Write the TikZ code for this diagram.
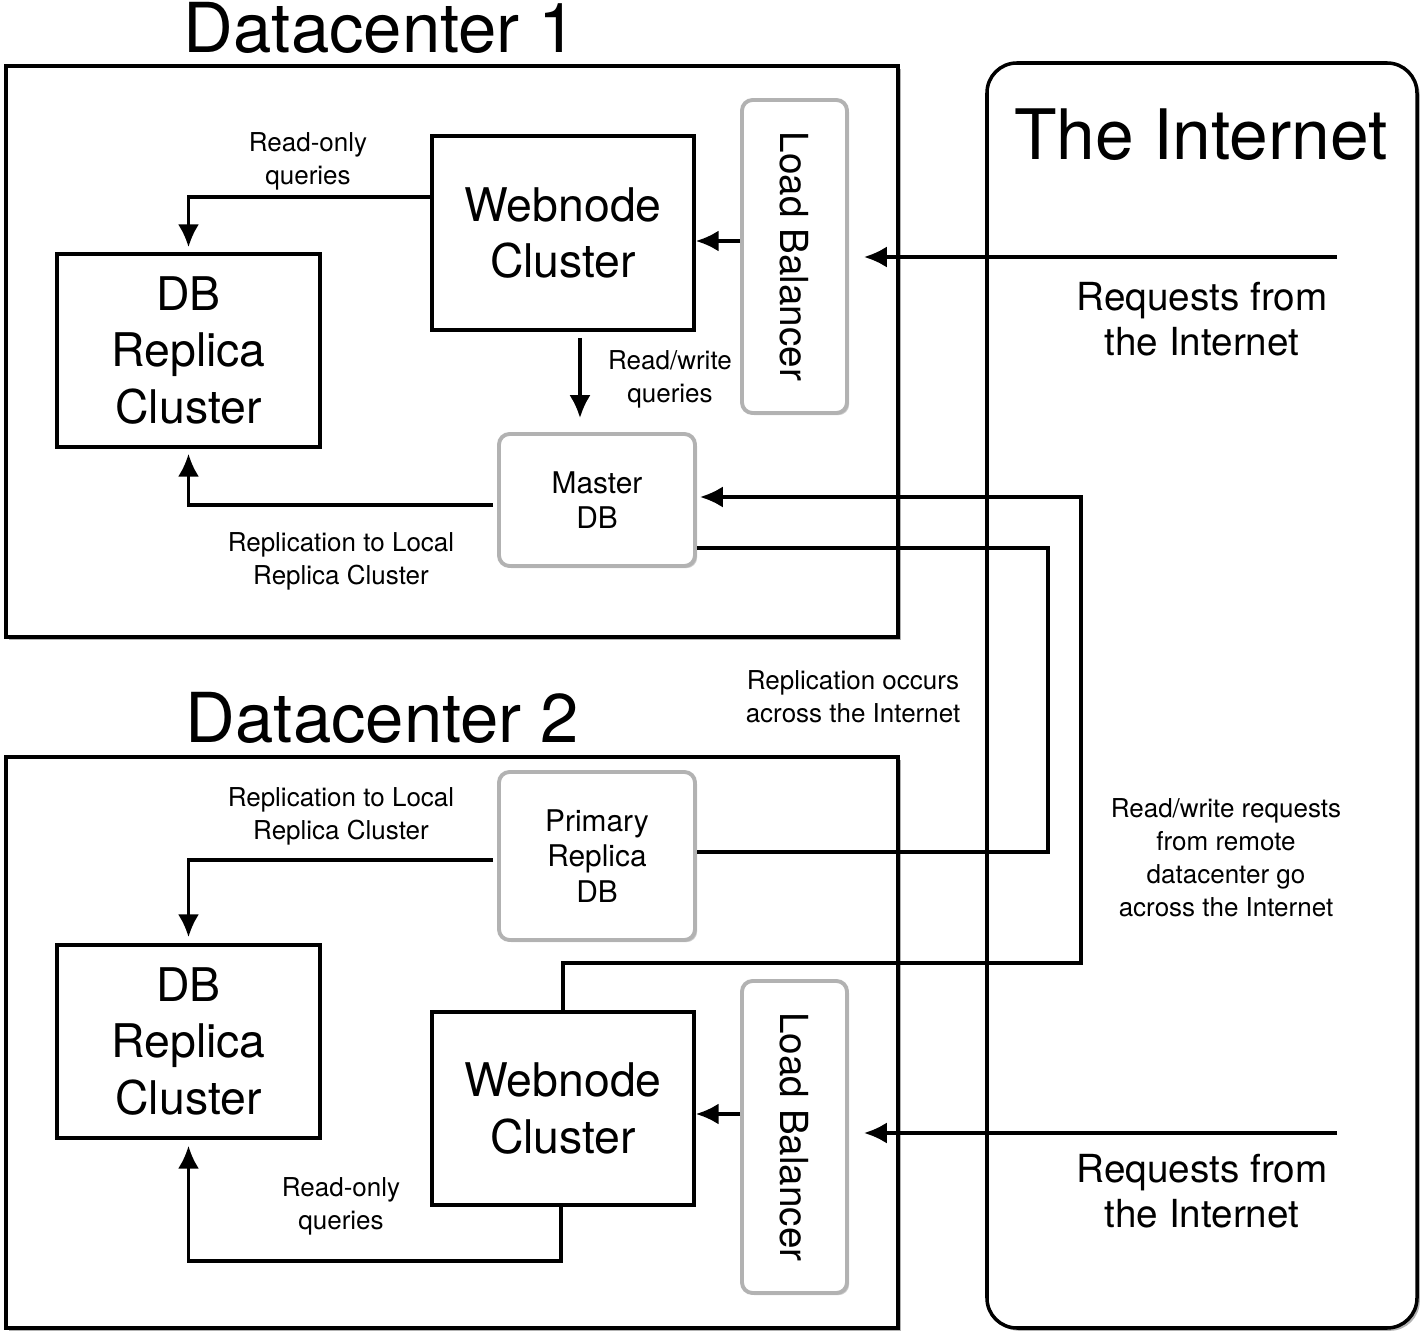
\documentclass[tikz,border=0pt]{standalone}
\usepackage{fontspec}
\setmainfont{TeX Gyre Heros}
\usetikzlibrary{arrows.meta,positioning,calc,shadows}

\tikzset{
  dcbox/.style={draw, line width=1pt, fill=white, minimum width=8.92cm, minimum height=5.71cm,
    drop shadow={shadow xshift=0.8pt, shadow yshift=-0.8pt, fill=black!30, opacity=1}},
  netbox/.style={draw, line width=1pt, fill=white, rounded corners=8.5pt, minimum width=4.30cm, minimum height=12.65cm,
    drop shadow={shadow xshift=0.8pt, shadow yshift=-0.8pt, fill=black!30, opacity=1}},
  hardbox/.style={draw, line width=1pt, align=center, inner sep=0pt,
    font=\fontsize{13.2}{16}\selectfont},
  softbox/.style={draw=black!30, line width=1.1pt, fill=white, rounded corners=3pt, align=center, inner sep=0pt,
    drop shadow={shadow xshift=0.6pt, shadow yshift=-0.6pt, fill=black!20, opacity=1}},
  title/.style={font=\fontsize{19.6}{22}\selectfont},
  note/.style={align=center, font=\fontsize{7.4}{9.4}\selectfont},
  wire/.style={line width=1pt},
  flow/.style={line width=1pt, -{Latex[length=6.5pt,width=6pt]}},
}

\begin{document}
\begin{tikzpicture}
\useasboundingbox (0,0) rectangle (14.25,-13.4);

\node[netbox] (net) at (12.02,-6.955) {};
\node[title, anchor=base, font=\fontsize{19.8}{22}\selectfont] (nettitle) at (12.01,-1.60) {The Internet};

\node[dcbox] (dc1) at (4.52,-3.515) {};
\node[dcbox] (dc2) at (4.52,-10.425) {};
\node[title, anchor=base] (dc1title) at (3.805,-0.53) {Datacenter 1};
\node[title, anchor=base] (dc2title) at (3.825,-7.43) {Datacenter 2};

\node[hardbox, minimum width=2.62cm, minimum height=1.94cm] (web1) at (5.63,-2.33) {Webnode\\Cluster};
\node[hardbox, minimum width=2.63cm, minimum height=1.93cm] (db1) at (1.885,-3.505) {DB\\Replica\\Cluster};
\node[softbox, minimum width=1.05cm, minimum height=3.13cm, font=\fontsize{11}{13}\selectfont] (lb1) at (7.945,-2.565) {\rotatebox{-90}{Load Balancer}};
\node[softbox, minimum width=1.96cm, minimum height=1.32cm, font=\fontsize{8.5}{10}\selectfont] (master) at (5.97,-5.0) {Master\\DB};

\node[softbox, minimum width=1.96cm, minimum height=1.68cm, font=\fontsize{8.5}{10.2}\selectfont] (primary) at (5.97,-8.56) {Primary\\Replica\\DB};
\node[hardbox, minimum width=2.63cm, minimum height=1.93cm] (db2) at (1.885,-10.415) {DB\\Replica\\Cluster};
\node[hardbox, minimum width=2.62cm, minimum height=1.93cm] (web2) at (5.63,-11.085) {Webnode\\Cluster};
\node[softbox, minimum width=1.05cm, minimum height=3.12cm, font=\fontsize{11}{13}\selectfont] (lb2) at (7.945,-11.37) {\rotatebox{-90}{Load Balancer}};

\node[note] (ro1) at (3.08,-1.61) {Read-only\\queries};
\node[note] (rw1) at (6.70,-3.79) {Read/write\\queries};
\node[note] (rep1) at (3.41,-5.61) {Replication to Local\\Replica Cluster};
\node[note] (repnet) at (8.53,-6.97) {Replication occurs\\across the Internet};
\node[note] (rwnet) at (12.26,-8.58) {Read/write requests\\from remote\\datacenter go\\across the Internet};
\node[note] (rep2) at (3.41,-8.16) {Replication to Local\\Replica Cluster};
\node[note] (ro2) at (3.41,-12.06) {Read-only\\queries};
\node[align=center, font=\fontsize{11}{12.8}\selectfont] (req1) at (12.02,-3.19) {Requests from\\the Internet};
\node[align=center, font=\fontsize{11}{12.8}\selectfont] (req2) at (12.02,-11.91) {Requests from\\the Internet};

\coordinate (in1) at (13.37,-2.57);
\coordinate (in2) at (13.37,-11.33);
\coordinate (rwturn) at (10.81,-9.63);
\coordinate (repturn) at (10.48,-7);

\draw[flow] (in1) -- ([xshift=1.5mm]in1 -| lb1.east);
\draw[flow] ([yshift=1.55mm]lb1.west) -- ([yshift=1.55mm]lb1.west -| web1.east);
\draw[flow] ([yshift=3.6mm]web1.west) -| ([yshift=0.5mm]db1.north);
\draw[flow] ($(web1.south)+(0.17,-0.06)$) -- ($(master.north -| web1.south)+(0.17,0.14)$);
\draw[flow] ([xshift=-0.4mm,yshift=-0.5mm]master.west) -| ([yshift=-0.5mm]db1.south);
\draw[flow] (web2.north) |- (rwturn) |- ([xshift=0.3mm,yshift=0.3mm]master.east);
\draw[wire] ([yshift=-4.8mm]master.east) -| (repturn) |- ([yshift=0.4mm]primary.east);
\draw[flow] ([xshift=-0.4mm,yshift=-0.4mm]primary.west) -| ([yshift=0.6mm]db2.north);

\draw[flow] (in2) -- ([xshift=1.5mm]in2 -| lb2.east);
\draw[flow] ([yshift=2.3mm]lb2.west) -- ([yshift=2.3mm]lb2.west -| web2.east);
\draw[flow] ([xshift=-0.2mm]web2.south) -- ++(0,-0.54) -| ([yshift=-0.6mm]db2.south);
\end{tikzpicture}
\end{document}
